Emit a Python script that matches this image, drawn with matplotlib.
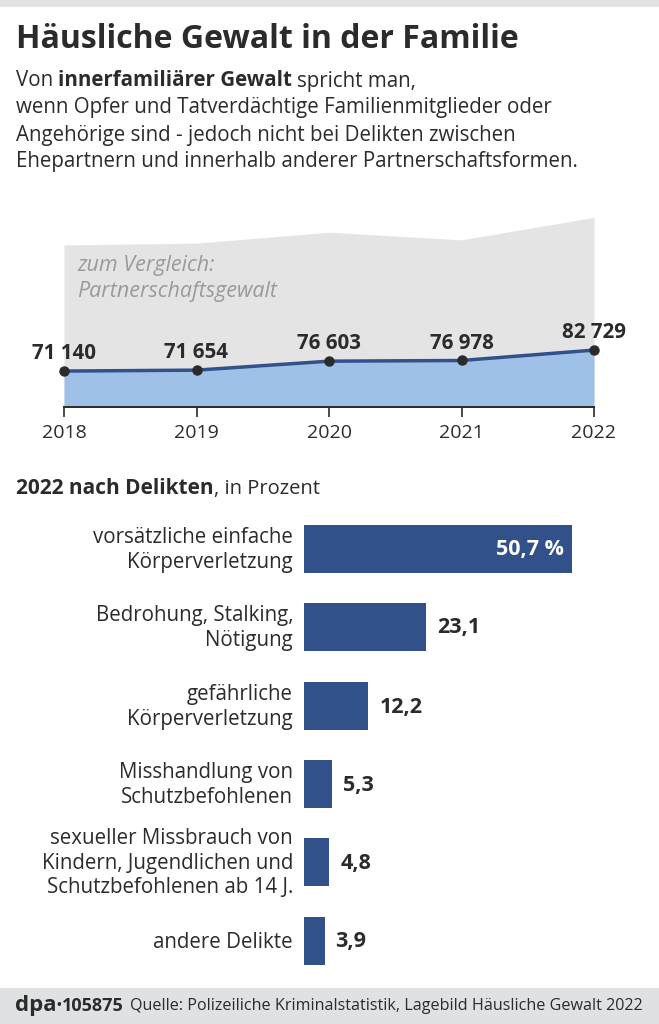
import matplotlib
matplotlib.use('Agg')
import matplotlib.pyplot as plt
from matplotlib.patches import Rectangle

W, H = 659, 1024

years = [2018, 2019, 2020, 2021, 2022]
family_cases = [71140, 71654, 76603, 76978, 82729]
family_labels = ['71 140', '71 654', '76 603', '76 978', '82 729']
partner_cases = [140800, 141800, 147800, 143600, 156000]

categories = ['vorsätzliche einfache\nKörperverletzung',
              'Bedrohung, Stalking,\nNötigung',
              'gefährliche\nKörperverletzung',
              'Misshandlung von\nSchutzbefohlenen',
              'sexueller Missbrauch von\nKindern, Jugendlichen und\nSchutzbefohlenen ab 14 J.',
              'andere Delikte']
shares = [50.7, 23.1, 12.2, 5.3, 4.8, 3.9]
share_labels = ['50,7 %', '23,1', '12,2', '5,3', '4,8', '3,9']

DARK = '#2b2b2b'
BLUE = '#32508a'
LIGHT_BLUE = '#9fc1e8'
GREY = '#e4e4e4'

plt.rcParams['font.family'] = ['Open Sans', 'DejaVu Sans']


def fx(px):
    return px / W


def fy(py):
    return 1 - py / H


def axes_px(left, top, right, bottom):
    return fig.add_axes([fx(left), fy(bottom), (right - left) / W, (bottom - top) / H])


fig = plt.figure(figsize=(W / 100, H / 100), dpi=100, facecolor='white')

# grey bands top and bottom
fig.add_artist(Rectangle((0, fy(7)), 1, 7 / H, transform=fig.transFigure, color='#e2e2e4', lw=0))
fig.add_artist(Rectangle((0, 0), 1, 36 / H, transform=fig.transFigure, color='#e0e1e3', lw=0))

# header
fig.text(fx(16), fy(40), 'Häusliche Gewalt in der Familie', fontsize=23, fontweight='bold',
         color=DARK, va='center')
fig.text(fx(16), fy(81), 'Von', fontsize=14.8, color=DARK, va='center')
fig.text(fx(58), fy(81), 'innerfamiliärer Gewalt', fontsize=14.8, fontweight='bold', color=DARK, va='center')
fig.text(fx(297), fy(81), 'spricht man,', fontsize=14.8, color=DARK, va='center')
fig.text(fx(16), fy(108), 'wenn Opfer und Tatverdächtige Familienmitglieder oder', fontsize=14.8, color=DARK, va='center')
fig.text(fx(16), fy(135), 'Angehörige sind - jedoch nicht bei Delikten zwischen', fontsize=14.8, color=DARK, va='center')
fig.text(fx(16), fy(162), 'Ehepartnern und innerhalb anderer Partnerschaftsformen.', fontsize=14.8, color=DARK, va='center')

# area chart
ax = axes_px(64, 200, 594, 407)
ax.fill_between(years, partner_cases, 51300, color=GREY, lw=0)
ax.fill_between(years, family_cases, 51300, color=LIGHT_BLUE, lw=0)
ax.plot(years, family_cases, color=BLUE, lw=2.5, zorder=3, clip_on=False)
ax.plot(years, family_cases, 'o', color=DARK, ms=6.5, zorder=4, clip_on=False)
ax.set_xlim(2018, 2022)
ax.set_ylim(51300, 165600)
ax.patch.set_alpha(0)
for side in ['top', 'left', 'right']:
    ax.spines[side].set_visible(False)
ax.spines['bottom'].set_color(DARK)
ax.spines['bottom'].set_linewidth(1.4)
ax.set_yticks([])
ax.set_xticks(years)
ax.set_xticklabels([str(y) for y in years], fontsize=14, color=DARK)
ax.tick_params(axis='x', length=7, width=1.2, color=DARK, pad=5.5, direction='out')
for year, val, lab in zip(years, family_cases, family_labels):
    ax.annotate(lab, (year, val), xytext=(0, 5), textcoords='offset points', ha='center', va='bottom',
                fontsize=14.8, fontweight='bold', color=DARK, annotation_clip=False)
fig.text(fx(77), fy(266), 'zum Vergleich:', fontsize=15.5, style='italic', color='#9a9a9a', va='center')
fig.text(fx(77), fy(291), 'Partnerschaftsgewalt', fontsize=15.5, style='italic', color='#9a9a9a', va='center')

# bar chart
fig.text(fx(16), fy(489), '2022 nach Delikten', fontsize=15, fontweight='bold', color=DARK, va='center')
fig.text(fx(214), fy(489), ', in Prozent', fontsize=14.5, color=DARK, va='center')

bx = axes_px(304, 510, 659, 980)
pos = [39, 117, 196, 274, 352, 431]
bx.barh(pos, shares, height=48, color=BLUE)
bx.set_xlim(0, 355 / 5.286)
bx.set_ylim(470, 0)
bx.axis('off')
for p, val, lab, cat in zip(pos, shares, share_labels, categories):
    bx.annotate(cat, (0, p), xytext=(-11, -1), textcoords='offset pixels', ha='right', va='center',
                fontsize=14.8, color=DARK, linespacing=1.2, annotation_clip=False)
    if val > 40:
        bx.annotate(lab, (val, p), xytext=(-8, -1), textcoords='offset pixels', ha='right', va='center',
                    fontsize=15.5, fontweight='bold', color='white')
    else:
        bx.annotate(lab, (val, p), xytext=(11, -1), textcoords='offset pixels', ha='left', va='center',
                    fontsize=15.5, fontweight='bold', color=DARK)

# footer
fig.text(fx(15), fy(1005), 'dpa', fontsize=16, fontweight='bold', color=DARK, va='center')
fig.text(fx(56), fy(1006), '•', fontsize=9, fontweight='bold', color=DARK, va='center')
fig.text(fx(62), fy(1006), '105875', fontsize=13, fontweight='bold', color=DARK, va='center')
fig.text(fx(130), fy(1006), 'Quelle: Polizeiliche Kriminalstatistik, Lagebild Häusliche Gewalt 2022',
         fontsize=11.6, color=DARK, va='center')

fig.savefig('out.png', dpi=100)
